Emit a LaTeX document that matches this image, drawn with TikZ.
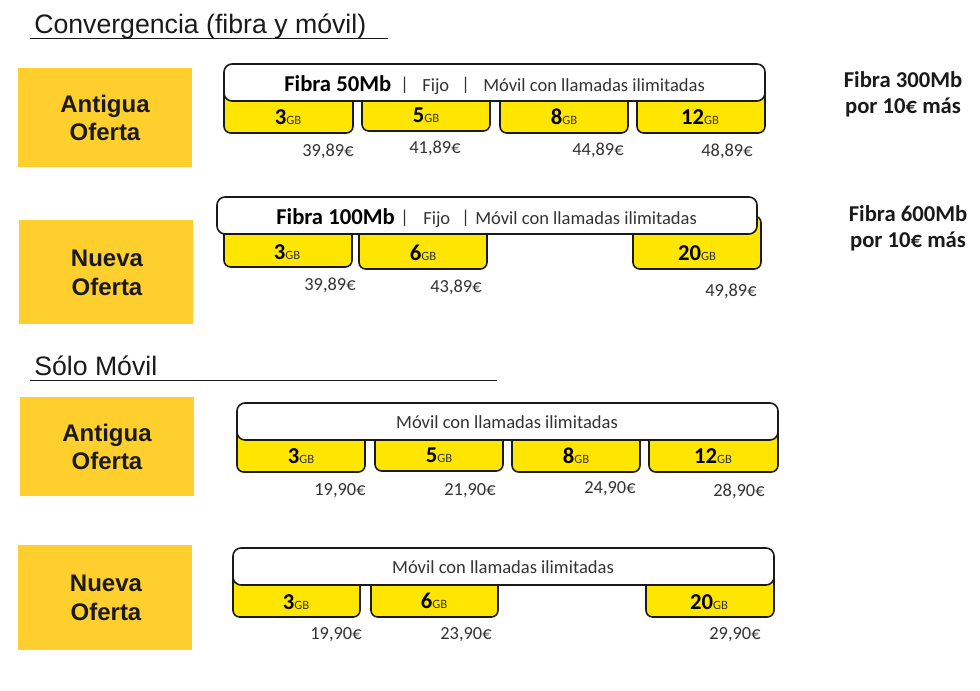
\documentclass[tikz,border=0pt]{standalone}
\usepackage{fontspec}
\setmainfont{Carlito}
\newfontfamily\arialf{Liberation Sans}
\definecolor{gold}{HTML}{FFCF2E}
\definecolor{tabyellow}{HTML}{FFE600}
\definecolor{ink}{HTML}{1A1A1A}
\definecolor{soft}{HTML}{333333}
\newcommand{\gbl}[1]{{\fontsize{17}{18}\selectfont\bfseries #1}{\fontsize{9.5}{10}\selectfont\color{soft} GB}}
\tikzset{
  x=0.75pt,y=-0.75pt,
  offer/.style={fill=gold,draw=none},
  offertext/.style={font=\arialf\bfseries\fontsize{18}{21.5}\selectfont,text=ink,align=center},
  tab/.style={draw=ink,line width=1.2pt,fill=tabyellow,rounded corners=5pt},
  bar/.style={draw=ink,line width=1.2pt,fill=white,rounded corners=6pt},
  lbl/.style={text=black,inner sep=0pt},
  price/.style={text=soft,font=\fontsize{13.8}{15}\selectfont,inner sep=0pt},
  bartext/.style={text=soft,font=\fontsize{13.9}{15}\selectfont,inner sep=0pt},
  bartextb/.style={text=black,font=\bfseries\fontsize{17}{18}\selectfont,inner sep=0pt},
  side/.style={text=ink,font=\bfseries\fontsize{17}{19.5}\selectfont,align=center,inner sep=0pt},
  heading/.style={font=\arialf\fontsize{20}{22}\selectfont,text=ink,inner sep=0pt,anchor=west},
  rule/.style={draw=ink,line width=0.7pt}
}
\begin{document}
\begin{tikzpicture}
\useasboundingbox[fill=white] (0,0) rectangle (980,691);
% headings
\node[heading] (h1) at (34,26) {Convergencia (fibra y móvil)};
\draw[rule] (30,38) -- (388,38);
\node[heading] (h2) at (34,366) {Sólo Móvil};
\draw[rule] (30,380) -- (497,380);
% offers
\fill[offer] (18,68) rectangle (192,167);
\node[offertext] (o1) at (105,118) {Antigua\\Oferta};
\fill[offer] (19,220) rectangle (193,324);
\node[offertext] (o2) at (107,273) {Nueva\\ Oferta};
\fill[offer] (20,397) rectangle (194,496);
\node[offertext] (o3) at (107,447) {Antigua\\Oferta};
\fill[offer] (18,545) rectangle (192,650);
\node[offertext] (o4) at (106,598) {Nueva\\Oferta};
% row 1
\draw[tab] (224,85) rectangle (353,133);
\draw[tab] (362,85) rectangle (490,131);
\draw[tab] (500,85) rectangle (628,133);
\draw[tab] (637,85) rectangle (765,133);
\draw[bar] (224,64) rectangle (765,101);
\node[bartextb,anchor=west] (a0) at (284,84) {Fibra 50Mb};
\node[bartext,anchor=west] (a1) at (400,85) {|};
\node[bartext,anchor=west] (a2) at (422,87) {Fijo};
\node[bartext,anchor=west] (a3) at (461,85) {|};
\node[bartext,anchor=west] (a4) at (483,85) {Móvil con llamadas ilimitadas};
\node[lbl] (a5) at (288,117) {\gbl{3}};
\node[lbl] (a6) at (426,115) {\gbl{5}};
\node[lbl] (a7) at (564,117) {\gbl{8}};
\node[lbl] (a8) at (700,117) {\gbl{12}};
\node[price] (a9) at (328,151) {39,89€};
\node[price] (a10) at (435,148) {41,89€};
\node[price] (a11) at (598,150) {44,89€};
\node[price] (a12) at (727,151) {48,89€};
% row 2
\draw[tab] (224,216) rectangle (352,267);
\draw[tab] (359,216) rectangle (487,269);
\draw[tab] (633,216) rectangle (761,269);
\draw[bar] (217,197) rectangle (757,234);
\node[bartextb,anchor=west] (b0) at (276,217) {Fibra 100Mb};
\node[bartext,anchor=west] (b1) at (400,218) {|};
\node[bartext,anchor=west] (b2) at (423,220) {Fijo};
\node[bartext,anchor=west] (b3) at (461,218) {|};
\node[bartext,anchor=west] (b4) at (475,218) {Móvil con llamadas ilimitadas};
\node[lbl] (b5) at (287,252) {\gbl{3}};
\node[lbl] (b6) at (423,253) {\gbl{6}};
\node[lbl] (b7) at (697,253) {\gbl{20}};
\node[price] (b9) at (330,285) {39,89€};
\node[price] (b10) at (456,287) {43,89€};
\node[price] (b12) at (731,291) {49,89€};
% row 3
\draw[tab] (237,425) rectangle (365,472);
\draw[tab] (375,425) rectangle (503,471);
\draw[tab] (512,425) rectangle (640,472);
\draw[tab] (649,425) rectangle (778,472);
\draw[bar] (237,403) rectangle (778,440);
\node[bartext] (c0) at (507,422) {Móvil con llamadas ilimitadas};
\node[lbl] (c5) at (301,456) {\gbl{3}};
\node[lbl] (c6) at (439,455) {\gbl{5}};
\node[lbl] (c7) at (576,456) {\gbl{8}};
\node[lbl] (c8) at (713,456) {\gbl{12}};
\node[price] (c9) at (340,491) {19,90€};
\node[price] (c10) at (470,491) {21,90€};
\node[price] (c11) at (610,489) {24,90€};
\node[price] (c12) at (739,491) {28,90€};
% row 4
\draw[tab] (233,570) rectangle (360,617);
\draw[tab] (371,570) rectangle (498,617);
\draw[tab] (646,570) rectangle (774,617);
\draw[bar] (233,548) rectangle (774,585);
\node[bartext] (d0) at (503,567) {Móvil con llamadas ilimitadas};
\node[lbl] (d5) at (296,602) {\gbl{3}};
\node[lbl] (d6) at (434,601) {\gbl{6}};
\node[lbl] (d7) at (709,602) {\gbl{20}};
\node[price] (d9) at (336,635) {19,90€};
\node[price] (d10) at (466,635) {23,90€};
\node[price] (d12) at (735,635) {29,90€};
% side notes
\node[side] (s1) at (903,94) {Fibra 300Mb\\por 10€ más};
\node[side] (s2) at (908,228) {Fibra 600Mb\\por 10€ más};
\end{tikzpicture}
\end{document}
